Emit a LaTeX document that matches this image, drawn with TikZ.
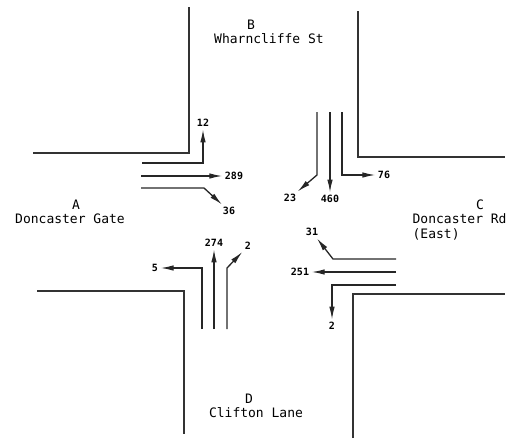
\documentclass[tikz,border=0pt]{standalone}
\usepackage{fontspec}
\newfontfamily\roadfont{DejaVu Sans Mono}
\usetikzlibrary{arrows.meta}

\begin{document}
\begin{tikzpicture}[x=1pt, y=-1pt, line width=1.3pt,
    road/.style={black!80},
    lane/.style={black!85, -{Latex[length=13pt, width=5.5pt]}},
    flow/.style={inner sep=2pt, font=\roadfont\bfseries\fontsize{10}{10}\selectfont},
    street/.style={inner sep=0pt, font=\roadfont\fontsize{13}{13}\selectfont}]
  \useasboundingbox (0,0) rectangle (511,439);

  % Kerbs
  \draw[road] (33,153) -- (189,153) -- (189,7);
  \draw[road] (358,11) -- (358,157) -- (505,157);
  \draw[road] (37,291) -- (184,291) -- (184,434);
  \draw[road] (353,438) -- (353,294) -- (505,294);

  % Street names
  \node[street] (armB) at (251,25) {B};
  \node[street] (nameB) at (269,39) {Wharncliffe St};
  \node[street] (armA) at (76,205) {A};
  \node[street] (nameA) at (70,219) {Doncaster Gate};
  \node[street] (armC) at (480,205) {C};
  \node[street, anchor=west] (nameC) at (412,219) {Doncaster Rd};
  \node[street, anchor=west] (eastC) at (412,234) {(East)};
  \node[street] (armD) at (249,399) {D};
  \node[street] (nameD) at (256,413) {Clifton Lane};

  % Turning counts
  \node[flow] (n12) at (203,123) {12};
  \node[flow] (n289) at (234,176) {289};
  \node[flow] (n36) at (229,211) {36};
  \node[flow] (n23) at (290,198) {23};
  \node[flow] (n460) at (330,199) {460};
  \node[flow] (n76) at (384,175) {76};
  \node[flow] (n5) at (155,268) {5};
  \node[flow] (n274) at (214,243) {274};
  \node[flow] (n2d) at (248,246) {2};
  \node[flow] (n31) at (312,232) {31};
  \node[flow] (n251) at (300,272) {251};
  \node[flow] (n2c) at (332,326) {2};

  % Approach A
  \draw[lane] (142,163) -| (n12);
  \draw[lane] (141,176) -- (n289);
  \draw[lane] (141,188) -- (204,188) -- (n36);

  % Approach B
  \draw[lane] (317,112) -- (317,175) -- (n23);
  \draw[lane] (330,112) -- (n460);
  \draw[lane] (342,112) |- (n76);

  % Approach D
  \draw[lane] (202,329) |- (n5);
  \draw[lane] (214,329) -- (n274);
  \draw[lane] (227,329) -- (227,268) -- (n2d);

  % Approach C
  \draw[lane] (396,259) -- (333,259) -- (n31);
  \draw[lane] (396,272) -- (n251);
  \draw[lane] (396,285) -| (n2c);
\end{tikzpicture}
\end{document}
